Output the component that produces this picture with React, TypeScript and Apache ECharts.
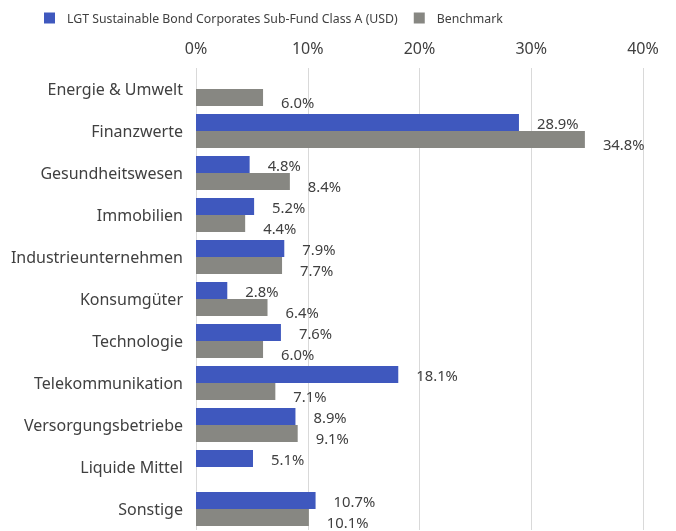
import React, { useEffect, useRef } from "react";
import * as echarts from "echarts";

const categories = [
  "Energie & Umwelt",
  "Finanzwerte",
  "Gesundheitswesen",
  "Immobilien",
  "Industrieunternehmen",
  "Konsumgüter",
  "Technologie",
  "Telekommunikation",
  "Versorgungsbetriebe",
  "Liquide Mittel",
  "Sonstige",
];
const fundValues: (number | null)[] = [null, 28.9, 4.8, 5.2, 7.9, 2.8, 7.6, 18.1, 8.9, 5.1, 10.7];
const benchValues: (number | null)[] = [6.0, 34.8, 8.4, 4.4, 7.7, 6.4, 6.0, 7.1, 9.1, null, 10.1];
const seriesNames = ["LGT Sustainable Bond Corporates Sub-Fund Class A (USD)", "Benchmark"];
const xTicks = { min: 0, max: 40, interval: 10 };

const FONT = "'Noto Sans', sans-serif";
const TEXT = "#404040";

export default function App() {
  const ref = useRef<HTMLDivElement>(null);
  useEffect(() => {
    if (!ref.current) return;
    const chart = echarts.init(ref.current, undefined, { renderer: "svg" });
    const label = {
      show: true,
      position: "right" as const,
      distance: 18,
      color: TEXT,
      fontSize: 14.8,
      lineHeight: 14,
      fontFamily: FONT,
      formatter: (p: any) => (p.value == null ? "" : Number(p.value).toFixed(1) + "%"),
    };
    chart.setOption({
      animation: false,
      textStyle: { fontFamily: FONT },
      legend: {
        top: 7,
        left: 39,
        itemWidth: 11,
        itemHeight: 11,
        itemGap: 16,
        icon: "rect",
        textStyle: { color: TEXT, fontSize: 12.3, fontFamily: FONT, padding: [0, 0, 0, 7] },
        data: seriesNames,
      },
      grid: { left: 196, right: 33, top: 68, height: 462 },
      xAxis: {
        type: "value",
        position: "top",
        min: xTicks.min,
        max: xTicks.max,
        interval: xTicks.interval,
        axisLine: { show: false },
        axisTick: { show: false },
        axisLabel: {
          color: TEXT,
          fontSize: 16,
          fontFamily: FONT,
          margin: 12,
          formatter: (v: number) => v + "%",
        },
        splitLine: { lineStyle: { color: "#d9d9d9", width: 1 } },
      },
      yAxis: {
        type: "category",
        inverse: true,
        data: categories,
        axisLine: { show: false },
        axisTick: { show: false },
        axisLabel: { color: TEXT, fontSize: 16, fontFamily: FONT, margin: 13, padding: [6, 0, 0, 0] },
      },
      series: [
        {
          name: seriesNames[0],
          type: "bar",
          data: fundValues,
          barGap: "0%",
          barCategoryGap: "19%",
          itemStyle: { color: "#3F58BE" },
          label: { ...label, offset: [0, 1] },
        },
        {
          name: seriesNames[1],
          type: "bar",
          data: benchValues,
          itemStyle: { color: "#878782" },
          label: { ...label, offset: [0, 4] },
        },
      ],
    });
    return () => chart.dispose();
  }, []);
  return (
    <div
      ref={ref}
      style={{ position: "fixed", left: 0, top: 0, width: 676, height: 531 }}
    />
  );
}
